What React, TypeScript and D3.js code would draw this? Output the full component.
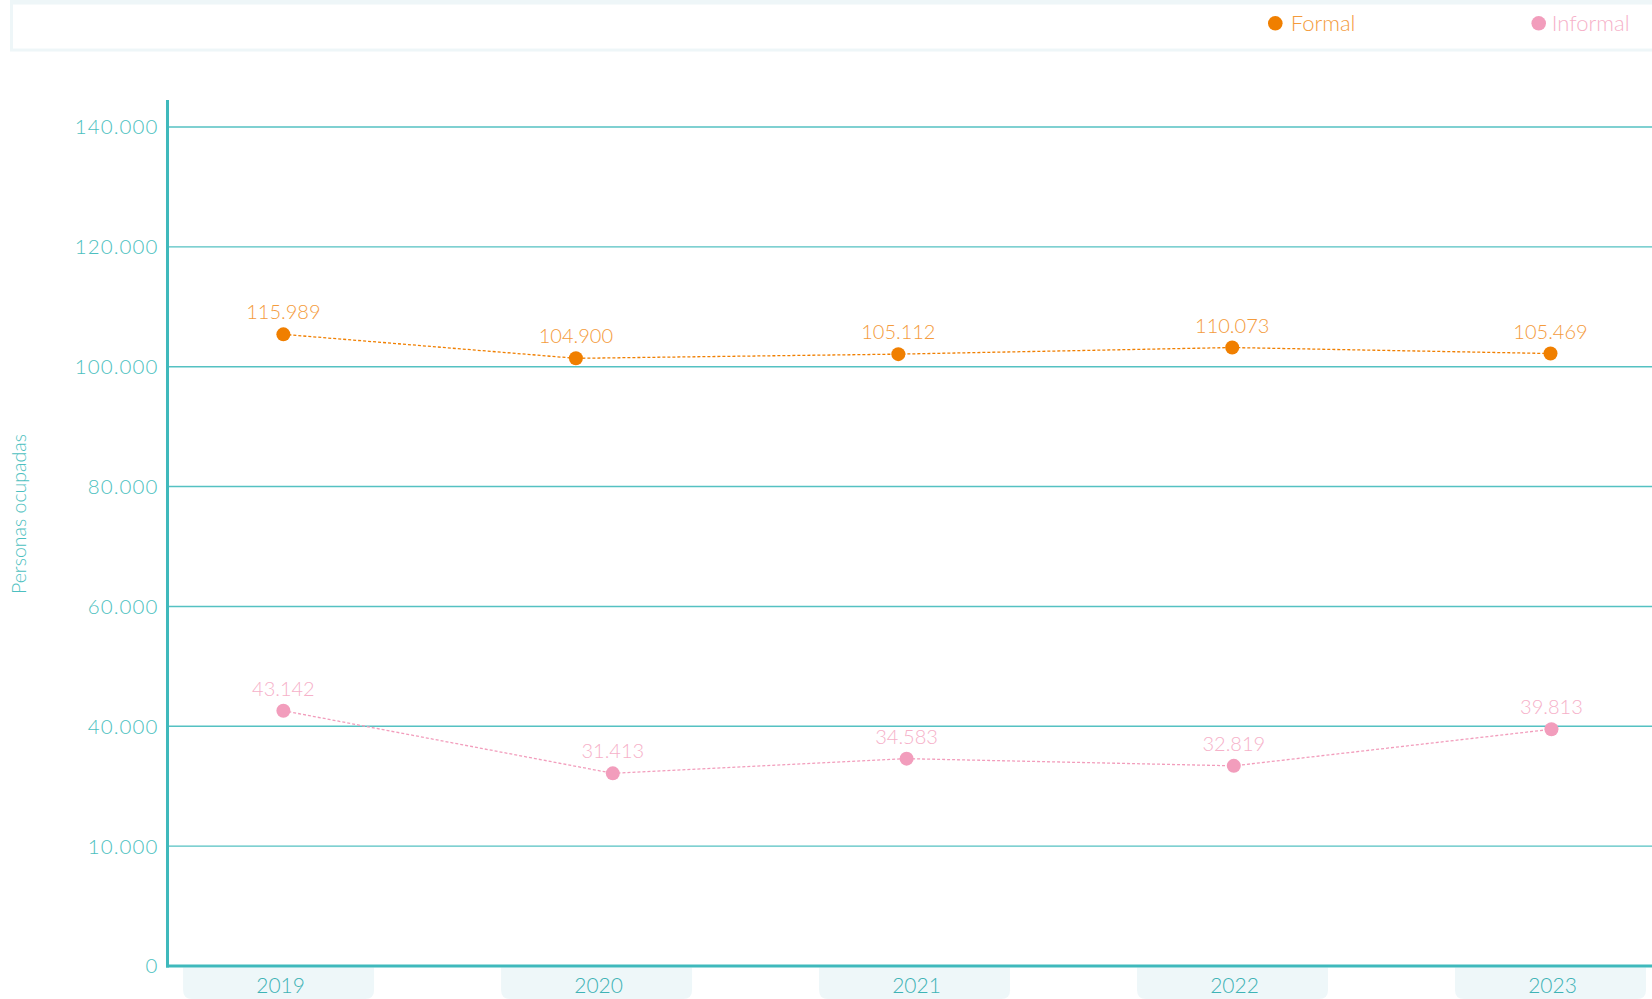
import React from 'react';
import * as d3 from 'd3';

const years = [2019, 2020, 2021, 2022, 2023];
const yTickValues = [0, 20000, 40000, 60000, 80000, 100000, 120000, 140000];
const yTickLabels = ['0', '10.000', '40.000', '60.000', '80.000', '100.000', '120.000', '140.000'];

const formalLabels = ['115.989', '104.900', '105.112', '110.073', '105.469'];
const informalLabels = ['43.142', '31.413', '34.583', '32.819', '39.813'];

// positions of the markers, in axis units
const formalPlotted = [105400, 101400, 102100, 103200, 102200];
const informalPlotted = [42600, 32150, 34600, 33400, 39500];
const formalYearPos = [2019.015, 2019.935, 2020.949, 2021.999, 2023.0];
const informalYearPos = [2019.015, 2020.051, 2020.975, 2022.004, 2023.003];

const W = 1652;
const H = 999;
const FONT = 'Lato, "Open Sans", sans-serif';
const TEAL = '#3fb9bc';
const TEAL_TXT = '#4cbfc0';
const ORANGE = '#f07f00';
const ORANGE_TXT = '#f49b3c';
const PINK = '#f29dbc';
const PINK_TXT = '#f6b1c9';

export default function App() {
  const x = d3.scaleLinear().domain([2019, 2023]).range([278.6, 1550.5]);
  const y = d3.scaleLinear().domain([0, 140000]).range([966, 127]);
  const axisX = 167.5;

  const formalPts = formalPlotted.map((v, i) => [x(formalYearPos[i]), y(v)] as [number, number]);
  const informalPts = informalPlotted.map((v, i) => [x(informalYearPos[i]), y(v)] as [number, number]);
  const line = d3.line().curve(d3.curveLinear);

  const boxW = 191;
  const boxTop = 967.5;
  const boxBottom = 999;
  const r = 9;
  const boxPath = (cx: number) => {
    const l = cx - boxW / 2;
    const rt = cx + boxW / 2;
    return `M${l},${boxTop} H${rt} V${boxBottom - r} Q${rt},${boxBottom} ${rt - r},${boxBottom} H${l + r} Q${l},${boxBottom} ${l},${boxBottom - r} Z`;
  };

  return (
    <svg width={W} height={H} style={{ position: 'absolute', left: 0, top: 0, background: '#fff' }}
      fontFamily={FONT}>
      {/* legend box */}
      <rect x={10} y={0} width={W} height={4} fill="#eef6f8" />
      <rect x={11.5} y={3} width={W} height={47} fill="#fff" stroke="#eef6f8" strokeWidth={3} />
      <circle cx={1275.3} cy={23.3} r={7.3} fill={ORANGE} />
      <text x={1290.7} y={31} fontSize={22} fontWeight={300} fill={ORANGE_TXT}>Formal</text>
      <circle cx={1538.7} cy={23.3} r={7.3} fill={PINK} />
      <text x={1551.7} y={31} fontSize={22} fontWeight={300} fill={PINK_TXT}>Informal</text>

      {/* gridlines */}
      {yTickValues.map((v, i) => (
        i === 0 ? null :
        <line key={'g' + v} x1={axisX} x2={W} y1={y(v)} y2={y(v)} stroke="#55c1c2" strokeWidth={1.4} />
      ))}
      {/* tick labels */}
      {yTickValues.map((v, i) => (
        <text key={'t' + v} x={158.5} y={y(v)} dy="0.36em" textAnchor="end" fontSize={20.5}
          fontWeight={300} letterSpacing={1.1} fill={TEAL_TXT}>{yTickLabels[i]}</text>
      ))}
      {/* axis title */}
      <text transform={`translate(26,514) rotate(-90)`} textAnchor="middle" fontSize={19.5}
        fontWeight={300} fill={TEAL_TXT}>Personas ocupadas</text>

      {/* year boxes */}
      {years.map((yr) => (
        <g key={'y' + yr}>
          <path d={boxPath(x(yr))} fill="#eef7f9" />
          <text x={x(yr) + 2} y={992.5} textAnchor="middle" fontSize={21} fontWeight={300} fill="#3fb3b6">{yr}</text>
        </g>
      ))}

      {/* axes */}
      <line x1={axisX} x2={axisX} y1={100} y2={967.5} stroke={TEAL} strokeWidth={3} />
      <line x1={axisX - 1.5} x2={W} y1={966} y2={966} stroke={TEAL} strokeWidth={3} />

      {/* series lines */}
      <path d={line(formalPts) || ''} fill="none" stroke={ORANGE} strokeWidth={1.3} strokeDasharray="3,2" />
      <path d={line(informalPts) || ''} fill="none" stroke={PINK} strokeWidth={1.3} strokeDasharray="3,2" />

      {formalPts.map((p, i) => (
        <g key={'f' + i}>
          <circle cx={p[0]} cy={p[1]} r={7} fill={ORANGE} />
          <text x={p[0]} y={p[1] - 15} textAnchor="middle" fontSize={20} fontWeight={300} fill={ORANGE_TXT}>{formalLabels[i]}</text>
        </g>
      ))}
      {informalPts.map((p, i) => (
        <g key={'i' + i}>
          <circle cx={p[0]} cy={p[1]} r={7} fill={PINK} />
          <text x={p[0]} y={p[1] - 15} textAnchor="middle" fontSize={20} fontWeight={300} fill={PINK_TXT}>{informalLabels[i]}</text>
        </g>
      ))}
    </svg>
  );
}
